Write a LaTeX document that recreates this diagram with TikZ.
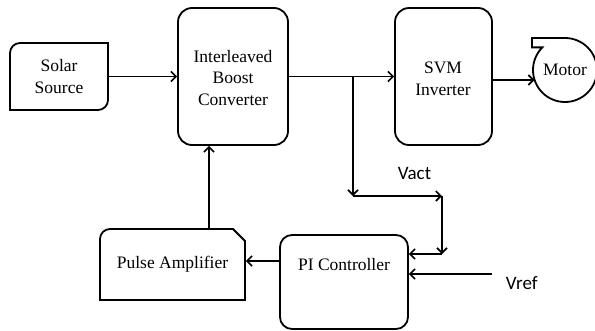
\documentclass[tikz,border=0pt]{standalone}
\usepackage{fontspec}
\setmainfont{Liberation Serif}
\newfontfamily\vfont{Carlito}
\usetikzlibrary{arrows.meta}
\begin{document}
\begin{tikzpicture}[x=1pt,y=-1pt,
  line width=1.8pt,
  arr/.style={-{Straight Barb[length=5pt,width=10pt,line width=1.6pt]}},
  blk/.style={draw,rounded corners=14pt,align=center,inner sep=0pt},
  txt/.style={align=center,font=\fontsize{17.5}{21.5}\selectfont,inner sep=0pt},
  vtxt/.style={font=\vfont\fontsize{19}{21}\selectfont,inner sep=0pt}]
\useasboundingbox (0,0) rectangle (595,330);
% Solar source shape
\draw (10,110) -- (10,53) arc[start angle=180,end angle=270,radius=10] -- (108,43) -- (108,100) arc[start angle=0,end angle=90,radius=10] -- cycle;
\node[txt,minimum width=98pt,minimum height=67pt] (solar) at (59,76.5) {Solar\\Source};
% Boost converter
\node[blk,minimum width=110pt,minimum height=137pt] (ibc) at (233,76.5) {};
\node[txt] (ibct) at (233,78) {Interleaved\\Boost\\Converter};
% SVM inverter
\node[blk,minimum width=97pt,minimum height=137pt] (svm) at (443.5,76.5) {};
\node[txt] (svmt) at (443,79) {SVM\\Inverter};
% Motor
\draw (565,38) arc[start angle=270,end angle=585,radius=32] -- (532,47.4) -- (532,38) -- cycle;
\node[txt,circle,minimum size=64pt] (motor) at (565,70) {Motor};
% PI controller
\node[blk,rounded corners=12pt,minimum width=128pt,minimum height=94pt] (pi) at (344,282) {};
\node[txt] (pit) at (344,265) {PI Controller};
% Pulse amplifier
\draw (100,300) -- (100,239) arc[start angle=180,end angle=270,radius=10] -- (233,229) -- (245,241) -- (245,300) -- cycle;
\node[txt,minimum width=145pt,minimum height=71pt] (pa) at (172.5,264.5) {Pulse Amplifier};
% coordinates
\coordinate (sp) at (353,77);
\coordinate (c1) at (353,196);
\coordinate (c2) at (442,196);
\coordinate (c3) at (442,254);
\coordinate (vr) at (492,274);
\coordinate (fb) at (209,0);
\coordinate (pl) at (0,261);
\coordinate (my) at (534.5,80);
% connectors
\draw[arr] (solar.east) -- (ibc.west);
\draw[arr] (ibc.east) -- (svm.west);
\draw[arr] (svm.east |- my) -- (my);
\draw[arr] (sp) -- (c1);
\draw[arr] (c1) -- (c2);
\draw[arr] (c2) -- (c3);
\draw[arr] (c3) -- (pi.east |- c3);
\draw[arr] (vr) -- (pi.east |- vr);
\draw[arr] (pi.west |- pl) -- (pa.east |- pl);
\draw[arr] (pa.north -| fb) -- (ibc.south -| fb);
% labels
\node[vtxt,anchor=west] (vact) at (397,173) {Vact};
\node[vtxt,anchor=west] (vref) at (505,283) {Vref};
\end{tikzpicture}
\end{document}
